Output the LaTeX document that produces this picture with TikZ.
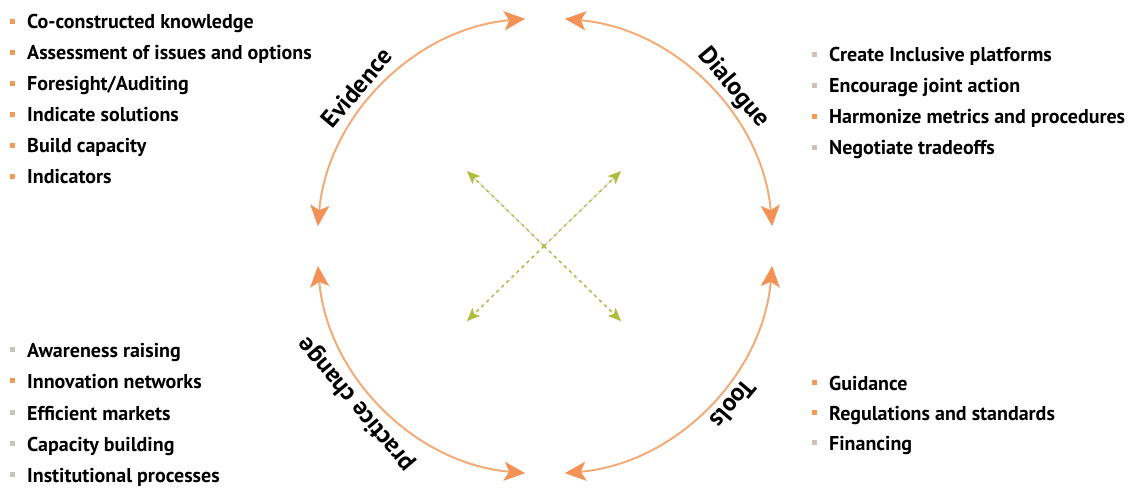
\documentclass[tikz,border=0pt]{standalone}
\usepackage{xcolor}
\usepackage{fontspec}
\setmainfont{PT Sans}
\usetikzlibrary{arrows.meta, calc}
\definecolor{arcorange}{HTML}{F3AC78}
\definecolor{tiporange}{HTML}{F39254}
\definecolor{bulorange}{HTML}{F39A55}
\definecolor{bulgrey}{HTML}{CCC3B6}
\definecolor{crossgreen}{HTML}{A8C03C}
\definecolor{crossgrey}{HTML}{DDDDDD}
\newcommand{\bul}[1]{\textcolor{#1}{\rule[5pt]{5pt}{5pt}}\hspace{12pt}}

\begin{document}
\begin{tikzpicture}[x=1pt, y=1pt,
    cyclearc/.style={arcorange, line width=2pt,
        {Stealth[length=21pt, width=19pt, inset=5pt, color=tiporange]}-{Stealth[length=21pt, width=19pt, inset=5pt, color=tiporange]}},
    crossline/.style={crossgreen, line width=1.5pt, dash pattern=on 3pt off 4pt,
        -{Stealth[length=13pt, width=11pt, inset=3pt]}},
    phase/.style={font=\bfseries\fontsize{25}{30}\selectfont, inner sep=0pt},
    listitem/.style={anchor=base west, inner sep=0pt, font=\bfseries\fontsize{20}{24}\selectfont}]
    \useasboundingbox (0,0) rectangle (1136,488);
    \coordinate (c) at (545,242);
    \coordinate (evs) at ($(c)+(175:228)$);
    \coordinate (dls) at ($(c)+(85:228)$);
    \coordinate (tls) at ($(c)+(-5:228)$);
    \coordinate (pcs) at ($(c)+(-95:228)$);
    \draw[cyclearc] (evs) arc[start angle=175, end angle=95, radius=228];
    \draw[cyclearc] (dls) arc[start angle=85, end angle=5, radius=228];
    \draw[cyclearc] (tls) arc[start angle=-5, end angle=-85, radius=228];
    \draw[cyclearc] (pcs) arc[start angle=-95, end angle=-175, radius=228];

    \coordinate (x) at (544,242);
    \coordinate (nw) at ($(x)+(-77,75)$);
    \coordinate (ne) at ($(x)+(77,75)$);
    \coordinate (sw) at ($(x)+(-77,-75)$);
    \coordinate (se) at ($(x)+(77,-75)$);
    \draw[crossgrey, line width=1.5pt, dash pattern=on 3pt off 4pt, dash phase=3.5pt] (nw) -- (se) (ne) -- (sw);
    \draw[crossline] (x) -- (nw);
    \draw[crossline] (x) -- (ne);
    \draw[crossline] (x) -- (sw);
    \draw[crossline] (x) -- (se);

    \node[phase, rotate=50] (evidence) at ($(c)+(140:246)$) {Evidence};
    \node[phase, rotate=-50] (dialogue) at ($(c)+(40:246)$) {Dialogue};
    \node[phase, rotate=230] (tools) at ($(c)+(-40:246)$) {Tools};
    \node[phase, rotate=130] (practice) at ($(c)+(220:246)$) {practice change};

    \node[listitem] (ev1) at (10,459) {\bul{bulorange}Co-constructed knowledge};
    \node[listitem] (ev2) at (10,428) {\bul{bulorange}Assessment of issues and options};
    \node[listitem] (ev3) at (10,397) {\bul{bulorange}Foresight/Auditing};
    \node[listitem] (ev4) at (10,366) {\bul{bulorange}Indicate solutions};
    \node[listitem] (ev5) at (10,335) {\bul{bulorange}Build capacity};
    \node[listitem] (ev6) at (10,304) {\bul{bulorange}Indicators};

    \node[listitem] (dl1) at (812,426) {\bul{bulgrey}Create Inclusive platforms};
    \node[listitem] (dl2) at (812,395) {\bul{bulgrey}Encourage joint action};
    \node[listitem] (dl3) at (812,364) {\bul{bulorange}Harmonize metrics and procedures};
    \node[listitem] (dl4) at (812,333) {\bul{bulgrey}Negotiate tradeoffs};

    \node[listitem] (pc1) at (10,131) {\bul{bulgrey}Awareness raising};
    \node[listitem] (pc2) at (10,100) {\bul{bulorange}Innovation networks};
    \node[listitem] (pc3) at (10,68) {\bul{bulgrey}Efficient markets};
    \node[listitem] (pc4) at (10,37) {\bul{bulgrey}Capacity building};
    \node[listitem] (pc5) at (10,6) {\bul{bulgrey}Institutional processes};

    \node[listitem] (tl1) at (812,98) {\bul{bulorange}Guidance};
    \node[listitem] (tl2) at (812,68) {\bul{bulorange}Regulations and standards};
    \node[listitem] (tl3) at (812,38) {\bul{bulgrey}Financing};
\end{tikzpicture}
\end{document}
